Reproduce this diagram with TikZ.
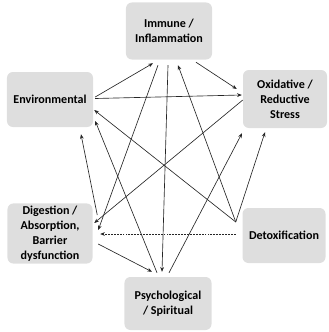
\documentclass[tikz,border=0pt]{standalone}
\usepackage{fontspec}
\setmainfont{Carlito}
\usepackage{tikz}
\usetikzlibrary{arrows.meta,calc}

\begin{document}
\begin{tikzpicture}[
  x=0.03cm, y=-0.03cm,
  factorBox/.style={fill=gray!26, rounded corners=5pt, minimum width=2.58cm,
                    minimum height=1.65cm, inner sep=2pt, align=center,
                    font=\fontsize{10.3}{12.8}\selectfont\bfseries},
  link/.style={-{Stealth[length=4pt,width=3.2pt]}, line width=0.55pt, black!85},
  >=Stealth
]
  \useasboundingbox (0,0) rectangle (328,332);

  % Factor boxes (pentagon-ish layout)
  \node[factorBox, minimum height=1.71cm] (imm) at (169,31) {Immune /\\Inflammation};
  \node[factorBox] (env) at (50,99.5) {Environmental};
  \node[factorBox, minimum width=2.52cm, minimum height=1.74cm] (ox) at (285,99)
    {Oxidative /\\Reductive\\Stress};
  \node[factorBox, minimum width=2.55cm, minimum height=1.59cm] (dig) at (50,233.5)
    {Digestion /\\Absorption,\\Barrier\\dysfunction};
  \node[factorBox, minimum width=2.49cm] (det) at (284,235.5) {Detoxification};
  \node[factorBox, minimum width=2.61cm, minimum height=1.59cm] (psy) at (168,303.5)
    {Psychological\\/ Spiritual};

  % Common start point left of Detoxification
  \coordinate (detC) at ([shift={(-6.5,-13.5)}]det.west);

  % Links
  \draw[link] ([shift={(2,-2.5)}]env.east) -- ([shift={(-16,3.5)}]imm.south);
  \draw[link] ([shift={(2,-1)}]env.east) -- ([shift={(-1,-4)}]ox.west);
  \draw[link] ([shift={(27,2.5)}]imm.south) -- ([shift={(-6,-10)}]ox.west);
  \draw[link] ([shift={(-11,5.5)}]imm.south) -- ([shift={(5.5,-3.5)}]dig.east);
  \draw[link] ([shift={(-1,5.5)}]imm.south) -- ([shift={(-6,-5)}]psy.north);
  \draw[link] (detC) -- ([shift={(9,5.5)}]imm.south);
  \draw[link] ([shift={(0,1)}]ox.west) -- ([shift={(1.5,-10.5)}]dig.east);
  \draw[link] (detC) -- ([shift={(1,10.5)}]env.east);
  \draw[link] ([shift={(-11,-4)}]psy.north) -- ([shift={(2,21.5)}]env.east);
  \draw[link] ([shift={(4.5,-18.5)}]dig.east) -- ([shift={(31,7)}]env.south);
  \draw[link] ([shift={(1,-4)}]psy.north) -- ([shift={(-43,5)}]ox.south);
  \draw[link] (detC) -- ([shift={(-20,4)}]ox.south);
  \draw[link, dash pattern=on 1.6pt off 0.9pt] ([shift={(-6.5,-1.5)}]det.west)
    -- ([shift={(7.5,0.5)}]dig.east);
  \draw[link] ([shift={(5.5,10.5)}]dig.east) -- ([shift={(-16,-5)}]psy.north);
\end{tikzpicture}
\end{document}
